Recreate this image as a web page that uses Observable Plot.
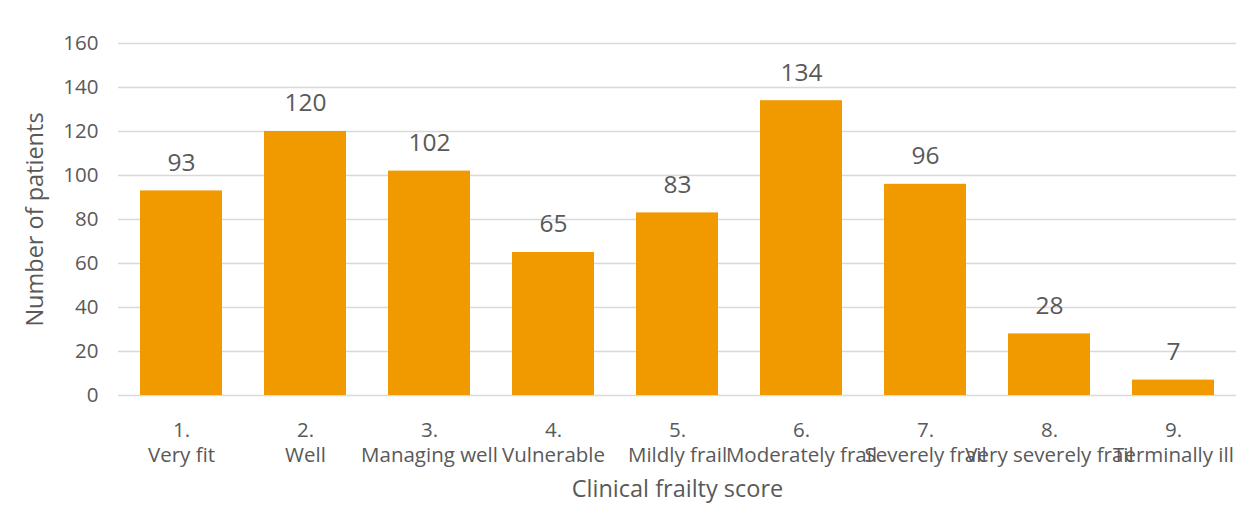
<!DOCTYPE html>
<html>
<head>
<meta charset="utf-8">
<script src="https://cdn.jsdelivr.net/npm/d3@7"></script>
<script src="https://cdn.jsdelivr.net/npm/@observablehq/plot@0.6"></script>
<style>
  html, body { margin: 0; padding: 0; background: #fff; }
  svg { display: block; }
</style>
</head>
<body>
<div id="chart"></div>
<script>
const numbers = ["1.", "2.", "3.", "4.", "5.", "6.", "7.", "8.", "9."];
const names = ["Very fit", "Well", "Managing well", "Vulnerable", "Mildly frail", "Moderately frail", "Severely frail", "Very severely frail", "Terminally ill"];
const patients = [93, 120, 102, 65, 83, 134, 96, 28, 7];
const yTicks = [0, 20, 40, 60, 80, 100, 120, 140, 160];

const data = numbers.map((n, i) => ({key: n + "\n" + names[i], value: patients[i]}));
const font = "'Open Sans', 'Liberation Sans', sans-serif";
const textColor = "#595959";

const chart = Plot.plot({
  width: 1255,
  height: 523,
  marginLeft: 118,
  marginRight: 19,
  marginTop: 43,
  marginBottom: 128,
  style: {fontFamily: font, color: textColor, background: "#fff"},
  x: {domain: data.map(d => d.key), paddingInner: 0.34, paddingOuter: 0.17, label: null},
  y: {domain: [0, 160], label: null},
  marks: [
    Plot.gridY(yTicks, {stroke: "#d9d9d9", strokeOpacity: 1, strokeWidth: 1.3}),
    Plot.barY(data, {x: "key", y: "value", fill: "#F09A00"}),
    Plot.text(data, {x: "key", y: "value", text: d => String(d.value), dy: -28, fontSize: 24.5, fill: textColor}),
    Plot.axisY({ticks: yTicks, tickSize: 0, tickPadding: 20, fontSize: 20.5, label: null, fill: textColor}),
    Plot.axisX({tickSize: 0, tickPadding: 24, fontSize: 20.5, lineHeight: 1.22, label: null, fill: textColor}),
    Plot.text(["Clinical frailty score"], {frameAnchor: "bottom", dy: 101, fontSize: 23.5, fill: textColor}),
    Plot.text(["Number of patients"], {frameAnchor: "left", textAnchor: "middle", dx: -83, rotate: -90, fontSize: 23.5, fill: textColor})
  ]
});
document.getElementById("chart").appendChild(chart);
</script>
</body>
</html>
